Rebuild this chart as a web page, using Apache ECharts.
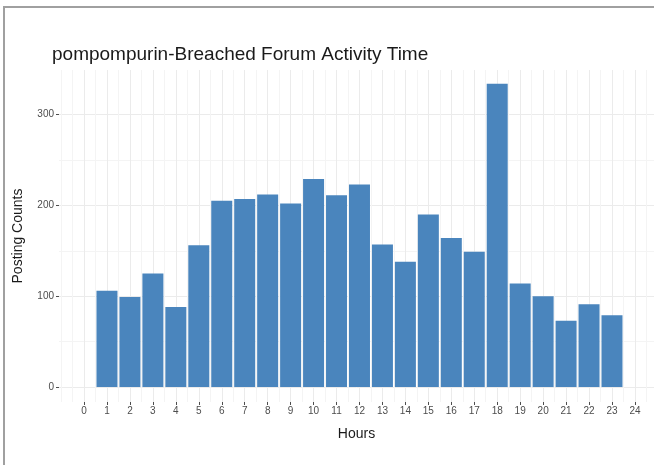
<!DOCTYPE html>
<html>
<head>
<meta charset="utf-8">
<script src="https://cdn.jsdelivr.net/npm/echarts@6/dist/echarts.min.js"></script>
<style>
html,body{margin:0;padding:0;background:#fff;}
#chart{position:absolute;left:0;top:0;width:654px;height:465px;}
#frame{position:absolute;left:3px;top:6px;width:660px;height:470px;border-top:2px solid #a0a0a0;border-left:2px solid #a0a0a0;pointer-events:none;z-index:5;}
</style>
</head>
<body>
<div id="chart"></div>
<div id="frame"></div>
<script>
const titleText = "pompompurin-Breached Forum Activity Time";
const xTitle = "Hours";
const yTitle = "Posting Counts";
const hours = [1,2,3,4,5,6,7,8,9,10,11,12,13,14,15,16,17,18,19,20,21,22,23];
const counts = [106,99,125,88,156,205,207,212,202,229,211,223,157,138,190,164,149,334,114,100,73,91,79];
const xTicks = [0,1,2,3,4,5,6,7,8,9,10,11,12,13,14,15,16,17,18,19,20,21,22,23,24];
const xMinor = [-1,-0.5,0.5,1.5,2.5,3.5,4.5,5.5,6.5,7.5,8.5,9.5,10.5,11.5,12.5,13.5,14.5,15.5,16.5,17.5,18.5,19.5,20.5,21.5,22.5,23.5,24.5];
const yTicks = [0,100,200,300];
const yMinor = [50,150,250];

const chart = echarts.init(document.getElementById('chart'), null, {renderer:'canvas'});
const font = 'Liberation Sans, Arial, sans-serif';
const majorLine = {show:true, lineStyle:{color:'#ebebeb', width:1}};
const minorLine = {show:true, lineStyle:{color:'#f4f4f4', width:1}};
chart.setOption({
  animation:false,
  backgroundColor:'#ffffff',
  title:{text:titleText, left:47, top:40, textStyle:{fontFamily:font, fontSize:19, fontWeight:'normal', color:'#1a1a1a'}},
  grid:{left:59, right:0, top:70, bottom:63},
  xAxis:[{
    type:'value', min:-1.09, max:24.83,
    name:xTitle, nameLocation:'middle', nameGap:25,
    nameTextStyle:{fontFamily:font, fontSize:14, color:'#1a1a1a'},
    axisLine:{show:false, onZero:false},
    axisTick:{show:true, length:3, customValues:xTicks, lineStyle:{color:'#4d4d4d'}},
    axisLabel:{customValues:xTicks, fontFamily:font, fontSize:10, color:'#4d4d4d', margin:4},
    splitLine:majorLine
  },{
    type:'value', min:-1.09, max:24.83, position:'bottom',
    axisLine:{show:false, onZero:false}, axisLabel:{show:false},
    axisTick:{show:false, customValues:xMinor},
    splitLine:minorLine
  }],
  yAxis:[{
    type:'value', min:-16.5, max:349,
    name:yTitle, nameLocation:'middle', nameGap:34, nameRotate:90,
    nameTextStyle:{fontFamily:font, fontSize:14, color:'#1a1a1a'},
    axisLine:{show:false, onZero:false},
    axisTick:{show:true, length:3, customValues:yTicks, lineStyle:{color:'#4d4d4d'}},
    axisLabel:{customValues:yTicks, fontFamily:font, fontSize:10, color:'#4d4d4d', margin:5},
    splitLine:majorLine
  },{
    type:'value', min:-16.5, max:349, position:'left',
    axisLine:{show:false, onZero:false}, axisLabel:{show:false},
    axisTick:{show:false, customValues:yMinor},
    splitLine:minorLine
  }],
  series:[{
    type:'bar', xAxisIndex:0, yAxisIndex:0,
    data:hours.map((h,i)=>[h,counts[i]]),
    barWidth:21,
    itemStyle:{color:'#4a85bd'}
  }]
});
</script>
</body>
</html>
